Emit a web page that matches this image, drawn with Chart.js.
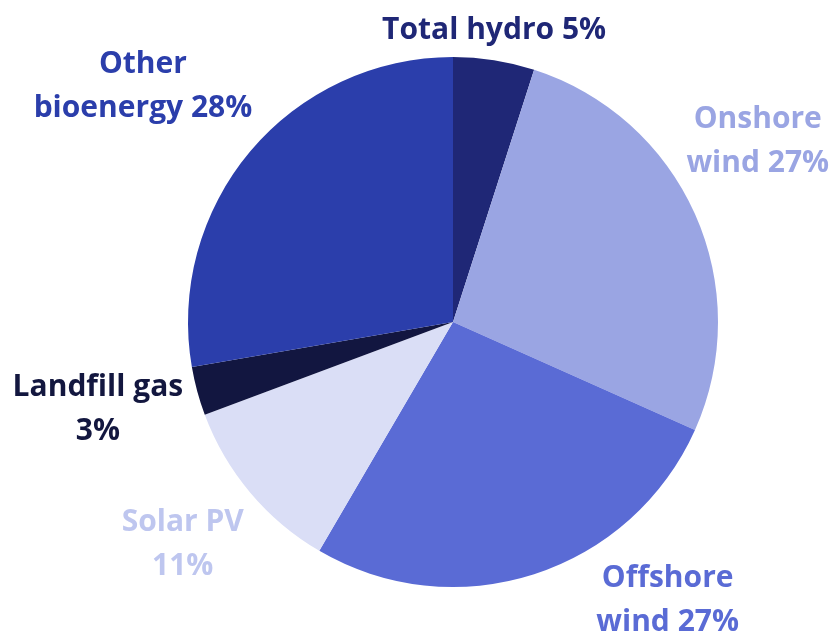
<!DOCTYPE html>
<html>
<head>
<meta charset="utf-8">
<script src="https://cdn.jsdelivr.net/npm/chart.js@4.4.0/dist/chart.umd.min.js"></script>
<style>
  body { margin: 0; background: #ffffff; }
  #chart { display: block; }
</style>
</head>
<body>
<canvas id="chart" width="839" height="634"></canvas>
<script>
const categories = ["Total hydro", "Onshore wind", "Offshore wind", "Solar PV", "Landfill gas", "Other bioenergy"];
const shares = [5, 27, 27, 11, 3, 28];
const labelLines = [
  ["Total hydro 5%"],
  ["Onshore", "wind 27%"],
  ["Offshore", "wind 27%"],
  ["Solar PV", "11%"],
  ["Landfill gas", "3%"],
  ["Other", "bioenergy 28%"]
];

const sliceColors = ["#1f2776", "#9aa5e3", "#5a6bd5", "#dadef6", "#121640", "#2b3eab"];
const textColors = ["#1f2776", "#9aa5e3", "#5a6bd5", "#bec6ef", "#13173f", "#2b3eab"];
// label centre relative to pie centre, in units of the radius
const labelOffsets = [
  [0.155, -1.10],
  [1.15, -0.68],
  [0.81, 1.05],
  [-1.02, 0.84],
  [-1.34, 0.33],
  [-1.17, -0.89]
];

const outsideLabels = {
  id: "outsideLabels",
  afterDraw(chart) {
    const ctx = chart.ctx;
    const meta = chart.getDatasetMeta(0);
    ctx.save();
    ctx.font = "bold 30px 'Open Sans'";
    ctx.textAlign = "center";
    ctx.textBaseline = "middle";
    meta.data.forEach((arc, i) => {
      const r = arc.outerRadius;
      const cx = arc.x + labelOffsets[i][0] * r;
      const cy = arc.y + labelOffsets[i][1] * r;
      const lines = labelLines[i];
      const lh = 44;
      ctx.fillStyle = textColors[i];
      lines.forEach((t, j) => {
        ctx.fillText(t, cx, cy + (j - (lines.length - 1) / 2) * lh);
      });
    });
    ctx.restore();
  }
};

new Chart(document.getElementById("chart").getContext("2d"), {
  type: "pie",
  data: {
    labels: categories,
    datasets: [{
      data: shares,
      backgroundColor: sliceColors,
      borderWidth: 0
    }]
  },
  options: {
    responsive: false,
    animation: false,
    layout: { padding: { top: 57, bottom: 47, left: 188, right: 121 } },
    plugins: {
      legend: { display: false },
      tooltip: { enabled: false }
    }
  },
  plugins: [outsideLabels]
});
</script>
</body>
</html>
